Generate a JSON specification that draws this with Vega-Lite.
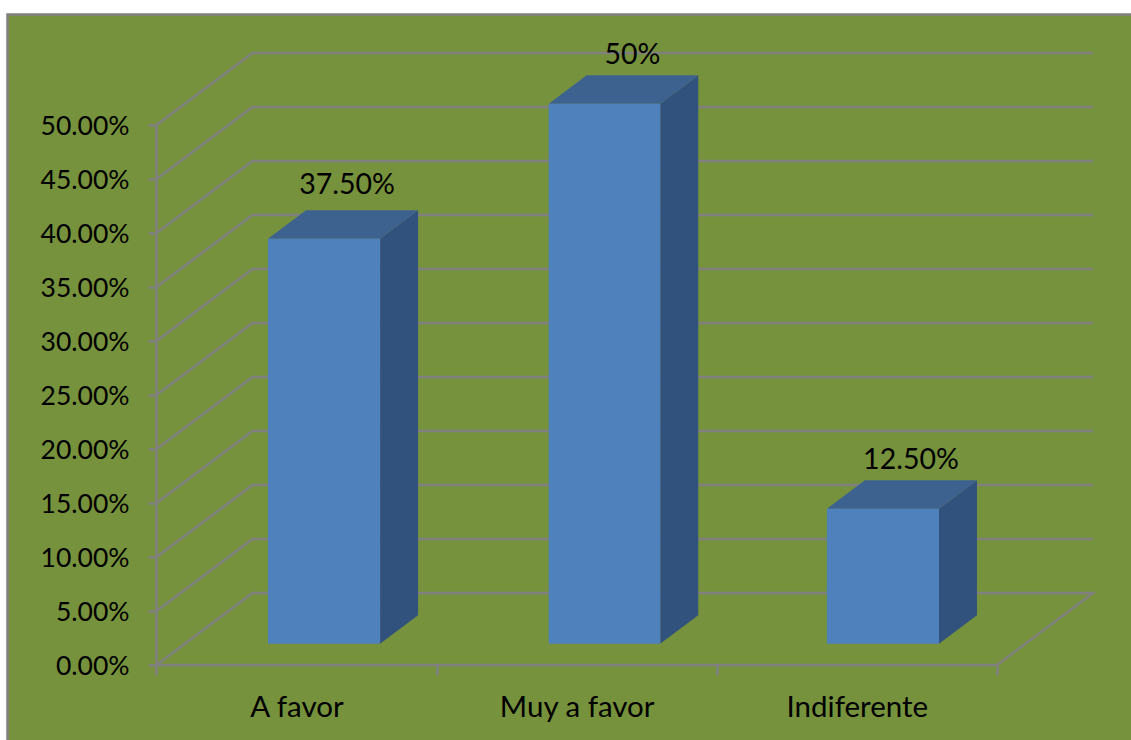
{
  "$schema": "https://vega.github.io/schema/vega-lite/v6.json",
  "width": 1124,
  "height": 726,
  "autosize": "none",
  "padding": {"left": 7, "top": 14, "right": 0, "bottom": 0},
  "background": "#ffffff",
  "view": {"fill": "#76923c", "stroke": null},
  "config": {"font": "Lato"},
  "datasets": {
    "bars": [
      {"category": "A favor", "left": 0.398, "right": 0.798, "value": 0.375, "label": "37.50%", "depth": [0, 1]},
      {"category": "Muy a favor", "left": 1.4, "right": 1.798, "value": 0.5, "label": "50%", "depth": [0, 1]},
      {"category": "Indiferente", "left": 2.393, "right": 2.793, "value": 0.125, "label": "12.50%", "depth": [0, 1]}
    ],
    "levels": [
      {"level": 0, "vertex": [0, 1, 2, 3, 4]},
      {"level": 0.05, "vertex": [0, 1, 2]},
      {"level": 0.1, "vertex": [0, 1, 2]},
      {"level": 0.15, "vertex": [0, 1, 2]},
      {"level": 0.2, "vertex": [0, 1, 2]},
      {"level": 0.25, "vertex": [0, 1, 2]},
      {"level": 0.3, "vertex": [0, 1, 2]},
      {"level": 0.35, "vertex": [0, 1, 2]},
      {"level": 0.4, "vertex": [0, 1, 2]},
      {"level": 0.45, "vertex": [0, 1, 2]},
      {"level": 0.5, "vertex": [0, 1, 2]}
    ],
    "outline": [
      {"path": "axis", "step": 0, "px": 0, "py": 0},
      {"path": "axis", "step": 1, "px": 0, "py": 0.5},
      {"path": "panel", "step": 0, "px": -0.5318, "py": -0.0694},
      {"path": "panel", "step": 1, "px": -0.5318, "py": 0.6023},
      {"path": "panel", "step": 2, "px": 3.4783, "py": 0.6023}
    ]
  },
  "encoding": {
    "x": {
      "field": "px",
      "type": "quantitative",
      "title": null,
      "scale": {"domain": [-0.5336, 3.4783], "nice": false, "zero": false},
      "axis": {
        "orient": "bottom",
        "offset": -75,
        "values": [0, 1, 2, 3],
        "labelExpr": "datum.value == 0 ? 'A favor' : datum.value == 1 ? 'Muy a favor' : datum.value == 2 ? 'Indiferente' : ''",
        "labelOffset": 140,
        "labelBound": false,
        "labelFlush": false,
        "labelOverlap": false,
        "labelFontSize": 29.5,
        "labelColor": "#000000",
        "labelPadding": 18,
        "tickSize": 10,
        "tickWidth": 2.5,
        "tickColor": "#808080",
        "domain": false,
        "grid": false
      }
    },
    "y": {
      "field": "py",
      "type": "quantitative",
      "title": null,
      "scale": {"domain": [-0.0694, 0.6028], "nice": false, "zero": false},
      "axis": {
        "orient": "left",
        "offset": -149.5,
        "values": [0, 0.05, 0.1, 0.15, 0.2, 0.25, 0.3, 0.35, 0.4, 0.45, 0.5],
        "format": ".2%",
        "labelFontSize": 26.5,
        "labelColor": "#000000",
        "labelPadding": 19,
        "labelOffset": 1.5,
        "labelOverlap": false,
        "tickSize": 8.5,
        "tickWidth": 2.5,
        "tickColor": "#808080",
        "domain": false,
        "grid": false
      }
    }
  },
  "layer": [
    {
      "description": "Side wall, back wall and floor edges of the oblique chart box",
      "data": {"name": "levels"},
      "transform": [
        {"flatten": ["vertex"]},
        {"calculate": "datum.vertex == 0 || datum.vertex == 4 ? 0 : datum.vertex == 1 ? 0.3426 : datum.vertex == 2 ? 3.3426 : 3", "as": "px"},
        {"calculate": "datum.vertex == 0 || datum.vertex >= 3 ? datum.level : datum.level + 0.0667", "as": "py"}
      ],
      "mark": {"type": "line", "color": "#808080", "strokeWidth": 2.5},
      "encoding": {
        "detail": {"field": "level"},
        "order": {"field": "vertex", "type": "quantitative"}
      }
    },
    {
      "description": "Value axis line and the panel edge",
      "data": {"name": "outline"},
      "mark": {"type": "line", "color": "#808080", "strokeWidth": 2.5, "clip": false},
      "encoding": {
        "detail": {"field": "path"},
        "order": {"field": "step", "type": "quantitative"}
      }
    },
    {
      "description": "Right-hand face of each column, sheared back by the depth",
      "data": {"name": "bars"},
      "transform": [
        {"flatten": ["depth"]},
        {"calculate": "datum.right + datum.depth * 0.1356", "as": "px"},
        {"calculate": "datum.value + 0.0198 + datum.depth * 0.0264", "as": "py"},
        {"calculate": "0.0198 + datum.depth * 0.0264", "as": "py2"}
      ],
      "mark": {"type": "area", "color": "#31527c", "orient": "vertical"},
      "encoding": {
        "y2": {"field": "py2"},
        "detail": {"field": "category"}
      }
    },
    {
      "description": "Top face of each column",
      "data": {"name": "bars"},
      "transform": [
        {"flatten": ["depth"]},
        {"calculate": "datum.left + datum.depth * 0.1356", "as": "px"},
        {"calculate": "datum.right + datum.depth * 0.1356", "as": "px2"},
        {"calculate": "datum.value + 0.0198 + datum.depth * 0.0264", "as": "py"}
      ],
      "mark": {"type": "area", "color": "#3d6290", "orient": "horizontal"},
      "encoding": {
        "x2": {"field": "px2"},
        "detail": {"field": "category"}
      }
    },
    {
      "description": "Front face of each column",
      "data": {"name": "bars"},
      "transform": [
        {"calculate": "datum.left", "as": "px"},
        {"calculate": "datum.right", "as": "px2"},
        {"calculate": "datum.value + 0.0198", "as": "py"},
        {"calculate": "0.0198", "as": "py2"}
      ],
      "mark": {"type": "rect", "color": "#4f81bd"},
      "encoding": {
        "x2": {"field": "px2"},
        "y2": {"field": "py2"}
      }
    },
    {
      "description": "Value labels over the middle and last columns",
      "data": {"name": "bars"},
      "transform": [
        {"filter": "datum.category != 'A favor'"},
        {"calculate": "(datum.left + datum.right) / 2", "as": "px"},
        {"calculate": "datum.value + 0.0198", "as": "py"}
      ],
      "mark": {"type": "text", "fontSize": 28.5, "color": "#000000", "align": "center", "baseline": "alphabetic", "dx": 28, "dy": -40},
      "encoding": {"text": {"field": "label"}}
    },
    {
      "description": "Value label over the first column",
      "data": {"name": "bars"},
      "transform": [
        {"filter": "datum.category == 'A favor'"},
        {"calculate": "(datum.left + datum.right) / 2", "as": "px"},
        {"calculate": "datum.value + 0.0198", "as": "py"}
      ],
      "mark": {"type": "text", "fontSize": 28.5, "color": "#000000", "align": "center", "baseline": "alphabetic", "dx": 23, "dy": -45},
      "encoding": {"text": {"field": "label"}}
    }
  ]
}
